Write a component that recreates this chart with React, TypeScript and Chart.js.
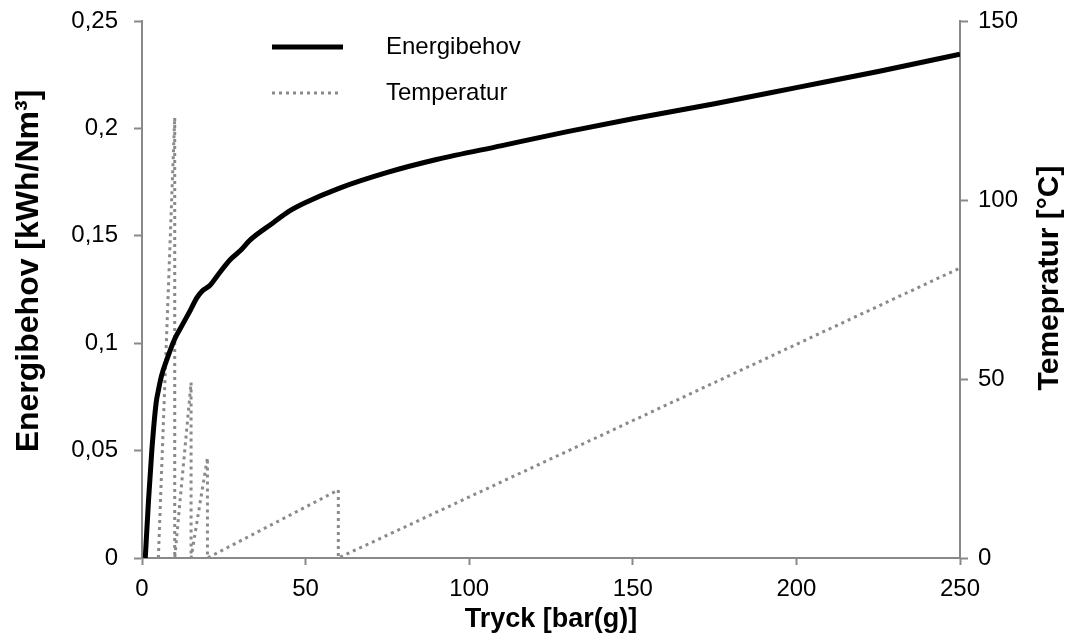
import React, { useEffect, useRef } from "react";
import { Chart, registerables } from "chart.js";

Chart.register(...registerables);

// Energy demand curve (kWh/Nm³) vs pressure (bar(g))
const energyPressure = [1, 2, 3, 4.3, 5, 6, 7.5, 10, 12.5, 15, 16.7, 18.2, 20.8, 23.3, 27, 30, 33, 40, 45, 50, 60, 75, 90, 110, 130, 150, 175, 200, 225, 250];
const energyValues = [0, 0.027, 0.05, 0.072, 0.078, 0.085, 0.092, 0.102, 0.109, 0.116, 0.121, 0.124, 0.127, 0.132, 0.139, 0.143, 0.148, 0.156, 0.1615, 0.1655, 0.172, 0.1795, 0.1855, 0.192, 0.1985, 0.2045, 0.2115, 0.219, 0.2265, 0.2345];

// Temperature (°C) vs pressure (bar(g))
const tempPressure = [5, 10, 10, 15, 15, 20, 20, 60, 60, 250];
const tempValues = [0, 123, 0, 49, 0, 28, 0, 19, 0, 81];

// Axis ticks
const xTickValues = [0, 50, 100, 150, 200, 250];
const leftTickValues = [0, 0.05, 0.1, 0.15, 0.2, 0.25];
const leftTickLabels = ["0", "0,05", "0,1", "0,15", "0,2", "0,25"];
const rightTickValues = [0, 50, 100, 150];

const seriesLabels = ["Energibehov", "Temperatur"];
const xTitle = "Tryck [bar(g)]";
const leftTitle = "Energibehov [kWh/Nm³]";
const rightTitle = "Temepratur [°C]";

const FONT = "'Liberation Sans', Arial, sans-serif";
const AXIS_GRAY = "#898989";
const TEMP_GRAY = "#8a8a8a";

export default function App() {
  const canvasRef = useRef<HTMLCanvasElement | null>(null);

  useEffect(() => {
    const canvas = canvasRef.current;
    if (!canvas) return;

    const overlayPlugin = {
      id: "overlay",
      afterDraw(chart: any) {
        const ctx = chart.ctx as CanvasRenderingContext2D;

        // vertical axis titles, both reading bottom-to-top
        const drawVertical = (text: string, x: number, y: number, size: number) => {
          ctx.save();
          ctx.font = `bold ${size}px ${FONT}`;
          ctx.fillStyle = "#000";
          ctx.textAlign = "center";
          ctx.textBaseline = "middle";
          ctx.translate(x, y);
          ctx.rotate(-Math.PI / 2);
          ctx.fillText(text, 0, 0);
          ctx.restore();
        };
        drawVertical(leftTitle, 29, 271, 32);
        drawVertical(rightTitle, 1050, 278, 30);

        // legend
        const ds = chart.data.datasets;
        const rows = [47, 93];
        ds.forEach((d: any, i: number) => {
          const y = rows[i];
          ctx.save();
          ctx.strokeStyle = d.borderColor;
          ctx.lineWidth = d.borderWidth;
          ctx.setLineDash(d.borderDash || []);
          ctx.lineCap = "butt";
          ctx.beginPath();
          ctx.moveTo(272, y);
          ctx.lineTo(i === 0 ? 343 : 340, y);
          ctx.stroke();
          ctx.setLineDash([]);
          ctx.font = `24px ${FONT}`;
          ctx.fillStyle = "#000";
          ctx.textAlign = "left";
          ctx.textBaseline = "middle";
          ctx.fillText(d.label, 386, y);
          ctx.restore();
        });
      },
    };

    const tickGrid = {
      display: true,
      drawOnChartArea: false,
      drawTicks: true,
      tickLength: 8,
      tickWidth: 2,
      tickColor: AXIS_GRAY,
    };

    const chart = new Chart(canvas, {
      type: "line",
      data: {
        datasets: [
          {
            label: seriesLabels[0],
            data: energyPressure.map((p, i) => ({ x: p, y: energyValues[i] })),
            borderColor: "#000000",
            borderWidth: 5,
            pointRadius: 0,
            cubicInterpolationMode: "monotone",
            yAxisID: "y",
            order: 0,
          },
          {
            label: seriesLabels[1],
            data: tempPressure.map((p, i) => ({ x: p, y: tempValues[i] })),
            borderColor: TEMP_GRAY,
            borderWidth: 3,
            borderDash: [3, 4],
            pointRadius: 0,
            tension: 0,
            yAxisID: "y1",
            order: 1,
          },
        ],
      },
      options: {
        responsive: false,
        animation: false,
        layout: { padding: { top: 21, left: 0, right: 0, bottom: 0 } },
        plugins: {
          legend: { display: false },
          tooltip: { enabled: false },
        },
        scales: {
          x: {
            type: "linear",
            min: 0,
            max: 250,
            afterBuildTicks: (scale: any) => {
              scale.ticks = xTickValues.map((v) => ({ value: v }));
            },
            afterFit: (scale: any) => {
              scale.height = 81;
              scale.paddingLeft = 0;
              scale.paddingRight = 0;
            },
            grid: { ...tickGrid, tickLength: 7 },
            border: { display: true, color: AXIS_GRAY, width: 2 },
            ticks: {
              color: "#000",
              font: { family: FONT, size: 24 },
              padding: 10,
              maxRotation: 0,
              autoSkip: false,
            },
            title: {
              display: true,
              text: xTitle,
              color: "#000",
              font: { family: FONT, size: 27, weight: "bold" },
              padding: { top: 0, bottom: 3 },
            },
          },
          y: {
            type: "linear",
            position: "left",
            min: 0,
            max: 0.25,
            afterBuildTicks: (scale: any) => {
              scale.ticks = leftTickValues.map((v) => ({ value: v }));
            },
            afterFit: (scale: any) => {
              scale.width = 142;
              scale.paddingTop = 0;
              scale.paddingBottom = 0;
            },
            grid: tickGrid,
            border: { display: true, color: AXIS_GRAY, width: 2 },
            ticks: {
              color: "#000",
              font: { family: FONT, size: 24 },
              padding: 16,
              callback: (_v: any, i: number) => leftTickLabels[i],
            },
          },
          y1: {
            type: "linear",
            position: "right",
            min: 0,
            max: 150,
            afterBuildTicks: (scale: any) => {
              scale.ticks = rightTickValues.map((v) => ({ value: v }));
            },
            afterFit: (scale: any) => {
              scale.width = 111;
              scale.paddingTop = 0;
              scale.paddingBottom = 0;
            },
            grid: tickGrid,
            border: { display: true, color: AXIS_GRAY, width: 2 },
            ticks: {
              color: "#000",
              font: { family: FONT, size: 24 },
              padding: 10,
            },
          },
        },
      },
      plugins: [overlayPlugin],
    } as any);

    return () => chart.destroy();
  }, []);

  return (
    <canvas
      ref={canvasRef}
      width={1071}
      height={639}
      style={{ position: "absolute", left: 0, top: 0, display: "block", background: "#fff" }}
    />
  );
}
